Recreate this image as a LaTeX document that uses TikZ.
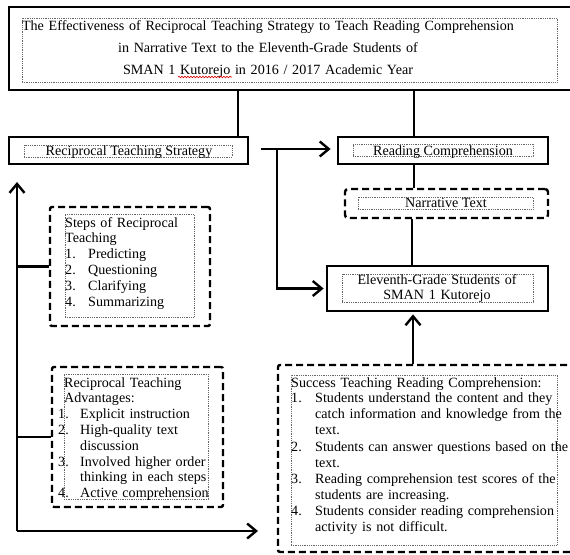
\documentclass[tikz,border=0pt]{standalone}
\usepackage{fontspec}
\setmainfont{Liberation Serif}
\usetikzlibrary{arrows.meta,fit,decorations.pathmorphing}
\begin{document}
\begin{tikzpicture}[x=1pt,y=-1pt,
  solidbox/.style={draw, line width=2.8pt, inner sep=0pt},
  dashbox/.style={draw, line width=2.4pt, dash pattern=on 7pt off 4pt, rounded corners=2pt, inner sep=0pt},
  dotbox/.style={draw, gray!80!black, line width=0.8pt, dash pattern=on 0.9pt off 0.9pt, inner sep=0pt},
  txt/.style={inner sep=0pt, font=\fontsize{14.1}{15.8}\selectfont, text=black},
  conn/.style={draw, line width=2.4pt},
  arr/.style={conn, -{Straight Barb[length=9pt,width=15pt]}},
  spell/.style={draw, red!85!black, line width=0.6pt, decorate, decoration={snake, amplitude=0.8pt, segment length=3pt}}]
\useasboundingbox (0,0) rectangle (570,554);
\clip (0,0) rectangle (570,554);
\fill[white] (0,0) rectangle (570,554);

% title
\node[solidbox, fit={(9,7) (578,90)}] (title) {};
\node[dotbox, fit={(22,18) (557,82)}] (titlein) {};
\node[txt, font=\fontsize{14.1}{22}\selectfont, text width=560pt, align=center, anchor=base] (titlet) at (268,30)
  {The Effectiveness of Reciprocal Teaching Strategy to Teach Reading Comprehension\\
   in Narrative Text to the Eleventh-Grade Students of\\
   SMAN 1 Kutorejo in 2016 / 2017 Academic Year};
\coordinate (sp1) at (178,77);
\coordinate (sp2) at (232,77);
\draw[spell] (sp1) -- (sp2);

% Reciprocal Teaching Strategy
\node[solidbox, fit={(9,137) (248,164)}] (rts) {};
\node[dotbox, fit={(24,145) (232,157)}] (rtsin) {};
\node[txt, anchor=base] (rtst) at (129,155) {Reciprocal Teaching Strategy};

% Reading Comprehension
\node[solidbox, fit={(338,137) (548,164)}] (rc) {};
\node[dotbox, fit={(353,144) (533,156)}] (rcin) {};
\node[txt, anchor=base] (rct) at (443,155) {Reading Comprehension};

% Narrative Text
\node[dashbox, rounded corners=3pt, fit={(345,189) (548,218)}] (nt) {};
\node[dotbox, fit={(358,197) (533,209)}] (ntin) {};
\node[txt, anchor=base] (ntt) at (446,207) {Narrative Text};

% Eleventh-Grade Students
\node[solidbox, fit={(327,266) (548,311)}] (eg) {};
\node[dotbox, fit={(342,274) (533,302)}] (egin) {};
\node[txt, text width=200pt, align=center, anchor=base] (egt) at (437,284)
  {Eleventh-Grade Students of\\SMAN 1 Kutorejo};

% Steps
\node[dashbox, fit={(50,207) (210,326)}] (steps) {};
\node[dotbox, fit={(65,214) (194,317)}] (stepsin) {};
\node[txt, text width=140pt, align=left, anchor=base west] (stepst) at (65,227)
  {Steps of Reciprocal\\Teaching\\
   \makebox[23pt][l]{1.}Predicting\\
   \makebox[23pt][l]{2.}Questioning\\
   \makebox[23pt][l]{3.}Clarifying\\
   \makebox[23pt][l]{4.}Summarizing};

% Advantages
\node[dashbox, fit={(52,367) (223,507)}] (adv) {};
\node[dotbox, fit={(64,374) (208,499)}] (advin) {};
\node[txt, text width=190pt, align=left, anchor=base west] (advt) at (58,387)
  {\hspace*{6pt}Reciprocal Teaching\\
   \hspace*{6pt}Advantages:\\
   \makebox[22pt][l]{1.}Explicit instruction\\
   \makebox[22pt][l]{2.}High-quality text\\
   \hspace*{22pt}discussion\\
   \makebox[22pt][l]{3.}Involved higher order\\
   \hspace*{22pt}thinking in each steps\\
   \makebox[22pt][l]{4.}Active comprehension};

% Success
\node[dashbox, fit={(278,365) (580,552)}] (succ) {};
\node[dotbox, fit={(291,375) (557,545)}] (succin) {};
\node[txt, text width=320pt, align=left, anchor=base west] (succt) at (291,387)
  {Success Teaching Reading Comprehension:\\
   \makebox[24pt][l]{1.}Students understand the content and they\\
   \hspace*{24pt}catch information and knowledge from the\\
   \hspace*{24pt}text.\\[1.5pt]
   \makebox[24pt][l]{2.}Students can answer questions based on the\\
   \hspace*{24pt}text.\\[0.5pt]
   \makebox[24pt][l]{3.}Reading comprehension test scores of the\\
   \hspace*{24pt}students are increasing.\\[0.5pt]
   \makebox[24pt][l]{4.}Students consider reading comprehension\\
   \hspace*{24pt}activity is not difficult.};

% coordinates
\coordinate (xa) at (238,0);
\coordinate (xb) at (414,0);
\coordinate (xc) at (412,0);
\coordinate (xd) at (413,0);
\coordinate (rstart) at (261,149);
\coordinate (bj) at (277,149);
\coordinate (lb) at (17,531);
\coordinate (lt) at (17,182);
\coordinate (br) at (258,531);

% connectors
\draw[conn] (title.south -| xa) -- (rts.north -| xa);
\draw[conn] (title.south -| xb) -- (rc.north -| xb);
\draw[conn] (rc.south -| xb) -- (nt.north -| xb);
\draw[conn] (nt.south -| xc) -- (eg.north -| xc);
\draw[arr, shorten >=2pt] (succ.north -| xd) -- (eg.south -| xd);
\draw[arr, shorten >=6pt] (rstart) -- (rc.west |- rstart);
\draw[arr, shorten >=2pt] (bj) |- (eg.west);
\draw[arr] (lb) -- (lt);
\draw[arr] (lb) -- (br);
\draw[conn] (lb |- steps.west) -- (steps.west);
\draw[conn] (lb |- adv.west) -- (adv.west);
\end{tikzpicture}
\end{document}
